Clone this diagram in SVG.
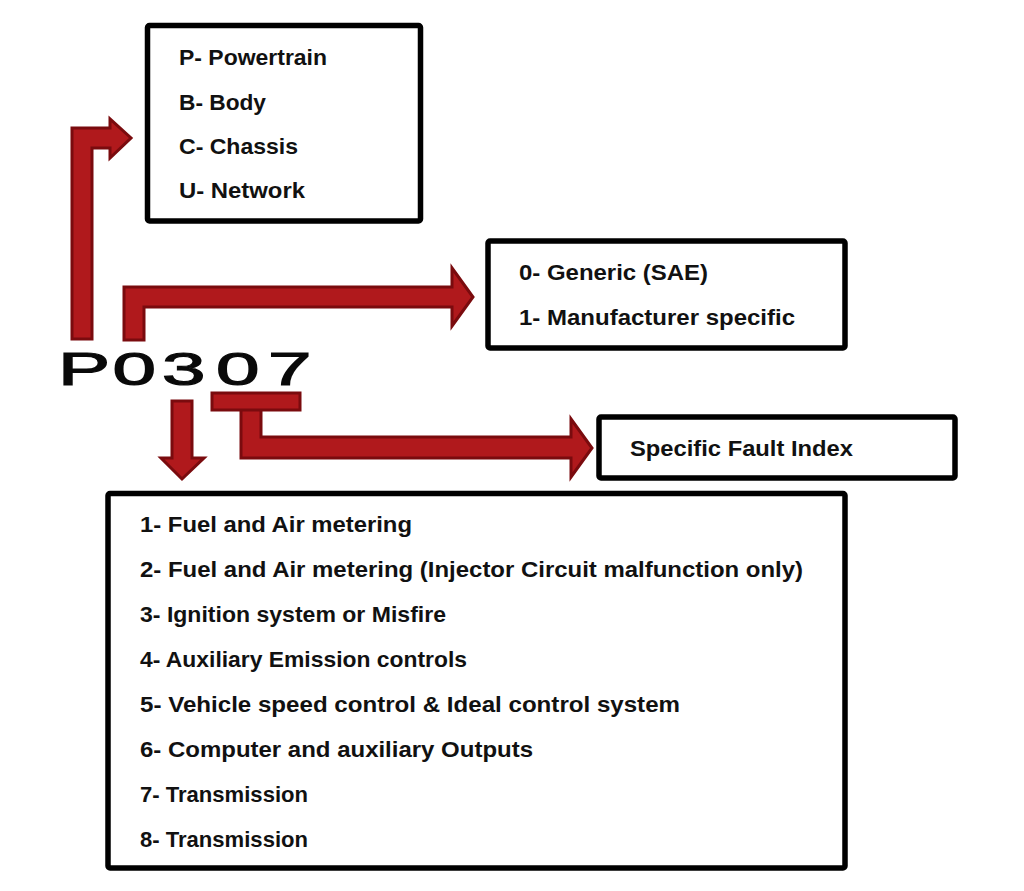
<svg xmlns="http://www.w3.org/2000/svg" width="1024" height="891" viewBox="0 0 1024 891">
  <style>
    .box { fill: #ffffff; stroke: #000000; stroke-width: 5.5; }
    .lbl { font-family: "Liberation Sans", Arial, sans-serif; font-weight: bold; font-size: 22px; fill: #111111; }
    .code { font-family: "Liberation Sans", Arial, sans-serif; font-weight: normal; font-size: 46px; fill: #0a0a0a; stroke: #0a0a0a; stroke-width: 1.2; }
    .arr { fill: #b0191c; stroke: #7a0b0e; stroke-width: 3; stroke-linejoin: miter; }
  </style>
  <rect width="1024" height="891" fill="#ffffff"/>

  <g id="connectors">
    <polygon class="arr" points="72,339 72,128 110,128 110,119 131,138 110,158 110,148 92,148 92,339"/>
    <polygon class="arr" points="124,340 124,287 452,287 452,268 473,297 452,326 452,307 144,307 144,340"/>
    <polygon class="arr" points="172,401 192,401 192,458 204,458 182,479 161,458 172,458"/>
    <polygon class="arr" points="241,408 261,408 261,437 571,437 571,419 592,448 571,477 571,458 241,458"/>
    <rect class="arr" x="212" y="393" width="88" height="17"/>
  </g>

  <g id="code">
    <text class="code" transform="scale(1.7,1)" x="34.1 66.2 95.3 127.1 157.6" y="385">P0307</text>
  </g>

  <g id="node-system">
    <rect class="box" x="147.5" y="25.5" width="273" height="195.5" rx="2"/>
    <text class="lbl" x="179" y="65" textLength="148" lengthAdjust="spacingAndGlyphs">P- Powertrain</text>
    <text class="lbl" x="179" y="110" textLength="87" lengthAdjust="spacingAndGlyphs">B- Body</text>
    <text class="lbl" x="179" y="154" textLength="119" lengthAdjust="spacingAndGlyphs">C- Chassis</text>
    <text class="lbl" x="179" y="198" textLength="126" lengthAdjust="spacingAndGlyphs">U- Network</text>
  </g>

  <g id="node-type">
    <rect class="box" x="488" y="241" width="357" height="107" rx="2"/>
    <text class="lbl" x="519" y="280" textLength="189" lengthAdjust="spacingAndGlyphs">0- Generic (SAE)</text>
    <text class="lbl" x="519" y="325" textLength="276" lengthAdjust="spacingAndGlyphs">1- Manufacturer specific</text>
  </g>

  <g id="node-fault">
    <rect class="box" x="599" y="417" width="356" height="61" rx="2"/>
    <text class="lbl" x="630" y="456" textLength="223" lengthAdjust="spacingAndGlyphs">Specific Fault Index</text>
  </g>

  <g id="node-subsystem">
    <rect class="box" x="108" y="493.5" width="737" height="374.5" rx="2"/>
    <text class="lbl" x="140" y="532" textLength="272" lengthAdjust="spacingAndGlyphs">1- Fuel and Air metering</text>
    <text class="lbl" x="140" y="577" textLength="663" lengthAdjust="spacingAndGlyphs">2- Fuel and Air metering (Injector Circuit malfunction only)</text>
    <text class="lbl" x="140" y="622" textLength="306" lengthAdjust="spacingAndGlyphs">3- Ignition system or Misfire</text>
    <text class="lbl" x="140" y="667" textLength="327" lengthAdjust="spacingAndGlyphs">4- Auxiliary Emission controls</text>
    <text class="lbl" x="140" y="712" textLength="540" lengthAdjust="spacingAndGlyphs">5- Vehicle speed control &amp; Ideal control system</text>
    <text class="lbl" x="140" y="757" textLength="393" lengthAdjust="spacingAndGlyphs">6- Computer and auxiliary Outputs</text>
    <text class="lbl" x="140" y="802" textLength="168" lengthAdjust="spacingAndGlyphs">7- Transmission</text>
    <text class="lbl" x="140" y="847" textLength="168" lengthAdjust="spacingAndGlyphs">8- Transmission</text>
  </g>
</svg>
